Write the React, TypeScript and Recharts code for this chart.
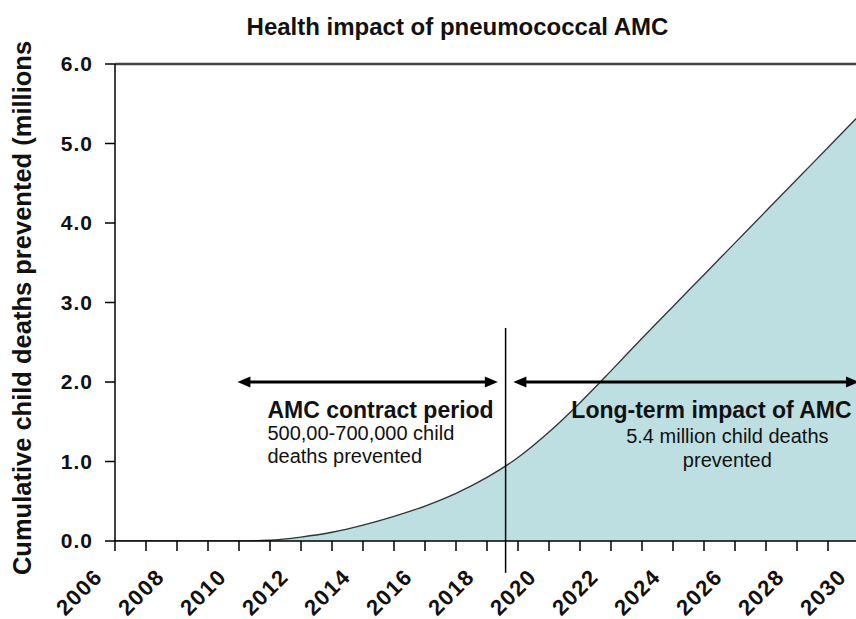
import { ComposedChart, Area, XAxis, YAxis, ReferenceLine } from 'recharts'

const years = [
  2006, 2007, 2008, 2009, 2010, 2011, 2012, 2013, 2014, 2015, 2016, 2017, 2018,
  2019, 2020, 2021, 2022, 2023, 2024, 2025, 2026, 2027, 2028, 2029, 2030
]
// cumulative child deaths prevented, millions
const deathsPrevented = [
  0, 0, 0, 0, 0, 0.01, 0.05, 0.11, 0.2, 0.31, 0.44, 0.6, 0.8,
  1.05, 1.37, 1.74, 2.14, 2.55, 2.95, 3.35, 3.75, 4.15, 4.55, 4.95, 5.35
]
const yTicks = [0, 1, 2, 3, 4, 5, 6]

const contractEnd = 2018.6
const contractLineRange = [-0.4, 2.68]
const contractArrow = [2009.95, 2018.35]
const longTermArrow = [2018.85, 2030]
const arrowLevel = 2.0

const contractTitle = 'AMC contract period'
const contractLines = ['500,00-700,000 child', 'deaths prevented']
const longTermTitle = 'Long-term impact of AMC'
const longTermLines = ['5.4 million child deaths', 'prevented']

const FONT = '"Liberation Sans", Arial, sans-serif'

const chartData = years.map((year, i) => ({ year, value: deathsPrevented[i] }))

const YearTick = ({ x, y, payload }: any) => {
  if (payload.value % 2 !== 0) return <g />
  const tx = x - 11
  const ty = y + 27
  return (
    <text
      x={tx}
      y={ty}
      transform={`rotate(-45 ${tx} ${ty})`}
      textAnchor="end"
      fontFamily={FONT}
      fontSize={22}
      fontWeight="bold"
      letterSpacing={1.5}
      fill="#111"
    >
      {payload.value}
    </text>
  )
}

const drawArrow = (x1: number, x2: number, y: number) => (
  <g>
    <line x1={x1 + 10} y1={y} x2={x2 - 10} y2={y} stroke="#000" strokeWidth={3} />
    <polygon points={`${x1},${y} ${x1 + 13},${y - 5.5} ${x1 + 13},${y + 5.5}`} fill="#000" />
    <polygon points={`${x2},${y} ${x2 - 13},${y - 5.5} ${x2 - 13},${y + 5.5}`} fill="#000" />
  </g>
)

const ContractShape = (props: any) => {
  const { x1, x2, y1 } = props
  return (
    <g>
      {drawArrow(x1, x2, y1)}
      <text x={x1 + 30} y={y1 + 36} fontFamily={FONT} fontSize={23} fontWeight="bold" fill="#111">
        {contractTitle}
      </text>
      {contractLines.map((t, i) => (
        <text key={t} x={x1 + 30} y={y1 + 58 + i * 23} fontFamily={FONT} fontSize={20} fill="#111">
          {t}
        </text>
      ))}
    </g>
  )
}

const LongTermShape = (props: any) => {
  const { x1, x2, y1 } = props
  return (
    <g>
      {drawArrow(x1, x2, y1)}
      <text x={x1 + 58} y={y1 + 36} fontFamily={FONT} fontSize={23} fontWeight="bold" fill="#111">
        {longTermTitle}
      </text>
      {longTermLines.map((t, i) => (
        <text
          key={t}
          x={x1 + 214}
          y={y1 + 61 + i * 24}
          textAnchor="middle"
          fontFamily={FONT}
          fontSize={20}
          fill="#111"
        >
          {t}
        </text>
      ))}
    </g>
  )
}

export default function App() {
  return (
    <div
      style={{
        position: 'absolute',
        left: 0,
        top: 0,
        width: 856,
        height: 619,
        overflow: 'hidden',
        background: '#fff',
        fontFamily: FONT
      }}
    >
      <div
        style={{
          position: 'absolute',
          left: 0,
          top: 15,
          width: 915,
          textAlign: 'center',
          fontSize: 24,
          lineHeight: '24px',
          fontWeight: 'bold',
          color: '#111',
          whiteSpace: 'nowrap'
        }}
      >
        Health impact of pneumococcal AMC
      </div>

      <div
        style={{
          position: 'absolute',
          left: 22 - 300,
          top: 308 - 15,
          width: 600,
          height: 30,
          lineHeight: '30px',
          textAlign: 'center',
          fontSize: 25.5,
          fontWeight: 'bold',
          color: '#111',
          whiteSpace: 'nowrap',
          transform: 'rotate(-90deg)'
        }}
      >
        Cumulative child deaths prevented (millions
      </div>

      <ComposedChart
        width={880}
        height={619}
        data={chartData}
        margin={{ top: 64, right: 21, bottom: 18, left: 0 }}
        style={{ position: 'absolute', left: 0, top: 0 }}
      >
        <XAxis
          dataKey="year"
          type="number"
          domain={[2006, 2030]}
          ticks={years}
          interval={0}
          height={60}
          tickSize={10}
          tickMargin={0}
          axisLine={{ stroke: '#000', strokeWidth: 1.5 }}
          tickLine={{ stroke: '#000', strokeWidth: 1.5 }}
          tick={<YearTick />}
        />
        <YAxis
          type="number"
          domain={[0, 6]}
          ticks={yTicks}
          width={115}
          tickSize={10}
          tickMargin={12}
          allowDataOverflow
          axisLine={{ stroke: '#000', strokeWidth: 1.5 }}
          tickLine={{ stroke: '#000', strokeWidth: 1.5 }}
          tickFormatter={(v: number) => v.toFixed(1)}
          tick={{ fontSize: 21, fontWeight: 'bold', fill: '#111', fontFamily: FONT, letterSpacing: 1 }}
        />
        <Area
          type="monotone"
          dataKey="value"
          stroke="#333"
          strokeWidth={1.3}
          fill="#bddfe1"
          fillOpacity={1}
          dot={false}
          activeDot={false}
          isAnimationActive={false}
        />
        <ReferenceLine y={6} stroke="#444" strokeWidth={2.5} />
        <ReferenceLine
          segment={[
            { x: contractEnd, y: contractLineRange[0] },
            { x: contractEnd, y: contractLineRange[1] }
          ]}
          stroke="#000"
          strokeWidth={1.5}
          ifOverflow="visible"
        />
        <ReferenceLine
          segment={[
            { x: contractArrow[0], y: arrowLevel },
            { x: contractArrow[1], y: arrowLevel }
          ]}
          ifOverflow="visible"
          shape={ContractShape}
        />
        <ReferenceLine
          segment={[
            { x: longTermArrow[0], y: arrowLevel },
            { x: longTermArrow[1], y: arrowLevel }
          ]}
          ifOverflow="visible"
          shape={LongTermShape}
        />
      </ComposedChart>
    </div>
  )
}
